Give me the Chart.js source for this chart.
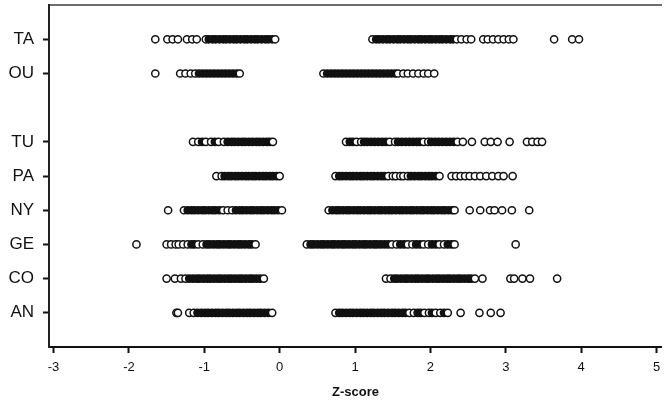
<!DOCTYPE html>
<html>
<head>
<meta charset="utf-8">
<script src="https://cdn.jsdelivr.net/npm/chart.js@4/dist/chart.umd.min.js"></script>
<style>
html,body{margin:0;padding:0;background:#fff;}
#wrap{width:667px;height:400px;position:relative;}
</style>
</head>
<body>
<div id="wrap"><canvas id="c" width="667" height="400"></canvas></div>
<script>
// Y axis labels (top to bottom, '' = empty slot)
const yLabels = ['', 'TA', 'OU', '', 'TU', 'PA', 'NY', 'GE', 'CO', 'AN', ''];
const xTicks = [-3, -2, -1, 0, 1, 2, 3, 4, 5];
const xTitle = 'Z-score';

// Z-scores per group
const TA = [-1.65, -1.49, -1.42, -1.35, -1.23, -1.16, -1.10,
  -0.98, -0.94, -0.89, -0.85, -0.80, -0.75, -0.71, -0.66, -0.61, -0.57, -0.52, -0.47, -0.43, -0.38, -0.33, -0.29, -0.24, -0.19, -0.15, -0.10, -0.06,
  1.23, 1.28, 1.32, 1.37, 1.42, 1.46, 1.51, 1.56, 1.60, 1.65, 1.70, 1.74, 1.79, 1.84, 1.88, 1.93, 1.98, 2.02, 2.07, 2.12, 2.16, 2.21, 2.26, 2.30, 2.35, 2.41,
  2.48, 2.54, 2.70, 2.76, 2.83, 2.90, 2.97, 3.04, 3.10, 3.64, 3.88, 3.97];
const OU = [-1.65, -1.32, -1.25, -1.18, -1.12, -1.07, -1.02, -0.97, -0.92, -0.87, -0.82, -0.77, -0.72, -0.67, -0.62, -0.57, -0.53,
  0.58, 0.63, 0.68, 0.73, 0.78, 0.83, 0.88, 0.93, 0.98, 1.03, 1.08, 1.13, 1.18, 1.23, 1.28, 1.33, 1.38, 1.43, 1.48, 1.53, 1.57,
  1.64, 1.70, 1.77, 1.84, 1.91, 1.97, 2.05];
const TU = [-1.15, -1.08, -1.03, -0.98, -0.91, -0.86, -0.81, -0.74, -0.69, -0.64, -0.60, -0.55, -0.50, -0.46, -0.41, -0.36, -0.31, -0.27, -0.22, -0.17, -0.13, -0.09,
  0.88, 0.93, 0.97, 1.02, 1.08, 1.12, 1.16, 1.21, 1.26, 1.31, 1.36, 1.41, 1.46, 1.53, 1.57, 1.62, 1.67, 1.72, 1.77, 1.82, 1.86, 1.91, 1.97, 2.01, 2.06, 2.11, 2.16, 2.21, 2.26, 2.31, 2.36,
  2.43, 2.55, 2.72, 2.80, 2.89, 3.05, 3.28, 3.35, 3.42, 3.48];
const PA = [-0.84, -0.77, -0.73, -0.68, -0.64, -0.59, -0.55, -0.50, -0.45, -0.41, -0.36, -0.32, -0.27, -0.22, -0.18, -0.13, -0.09, -0.04, 0.00,
  0.74, 0.79, 0.83, 0.88, 0.93, 0.97, 1.02, 1.07, 1.11, 1.16, 1.21, 1.25, 1.30, 1.35, 1.39, 1.44, 1.50, 1.54, 1.60, 1.64, 1.70, 1.74, 1.79, 1.84, 1.88, 1.93, 1.98, 2.02, 2.07, 2.12,
  2.28, 2.34, 2.40, 2.46, 2.52, 2.59, 2.66, 2.74, 2.82, 2.90, 2.97, 3.09];
const NY = [-1.48, -1.27, -1.22, -1.17, -1.13, -1.08, -1.03, -0.99, -0.94, -0.89, -0.85, -0.80, -0.75, -0.69, -0.63, -0.58, -0.53, -0.49, -0.44, -0.39, -0.35, -0.30, -0.25, -0.21, -0.16, -0.11, -0.07, -0.02, 0.03,
  0.65, 0.70, 0.75, 0.79, 0.84, 0.89, 0.93, 0.98, 1.03, 1.07, 1.12, 1.17, 1.21, 1.26, 1.31, 1.35, 1.40, 1.45, 1.49, 1.54, 1.59, 1.63, 1.68, 1.73, 1.77, 1.82, 1.87, 1.91, 1.96, 2.01, 2.05, 2.10, 2.15, 2.19, 2.24, 2.29, 2.32,
  2.52, 2.66, 2.79, 2.85, 2.95, 3.08, 3.31];
const GE = [-1.90, -1.50, -1.44, -1.38, -1.34, -1.28, -1.22, -1.17, -1.13, -1.08, -1.02, -0.97, -0.93, -0.88, -0.83, -0.79, -0.74, -0.69, -0.65, -0.60, -0.55, -0.51, -0.46, -0.41, -0.37, -0.32,
  0.36, 0.41, 0.45, 0.50, 0.55, 0.59, 0.64, 0.69, 0.73, 0.78, 0.83, 0.87, 0.92, 0.97, 1.01, 1.06, 1.11, 1.15, 1.20, 1.25, 1.29, 1.34, 1.39, 1.44, 1.49, 1.55, 1.60, 1.65, 1.70, 1.76, 1.81, 1.86, 1.91, 1.97, 2.02, 2.07, 2.12, 2.18, 2.23, 2.28, 2.32,
  3.13];
const CO = [-1.50, -1.39, -1.31, -1.25, -1.20, -1.15, -1.10, -1.06, -1.01, -0.96, -0.92, -0.87, -0.82, -0.78, -0.73, -0.68, -0.64, -0.59, -0.54, -0.50, -0.45, -0.40, -0.36, -0.31, -0.26, -0.21,
  1.41, 1.47, 1.52, 1.56, 1.61, 1.66, 1.70, 1.75, 1.80, 1.84, 1.89, 1.94, 1.98, 2.03, 2.08, 2.12, 2.17, 2.22, 2.26, 2.31, 2.36, 2.40, 2.45, 2.50, 2.54, 2.59,
  2.69, 3.06, 3.11, 3.22, 3.32, 3.68];
const AN = [-1.37, -1.35, -1.20, -1.14, -1.09, -1.04, -0.99, -0.95, -0.90, -0.85, -0.81, -0.76, -0.71, -0.67, -0.62, -0.57, -0.53, -0.48, -0.43, -0.39, -0.34, -0.29, -0.25, -0.20, -0.15, -0.10,
  0.74, 0.79, 0.83, 0.88, 0.93, 0.97, 1.02, 1.07, 1.11, 1.16, 1.21, 1.25, 1.30, 1.35, 1.39, 1.44, 1.49, 1.53, 1.58, 1.63, 1.67, 1.72, 1.78, 1.83, 1.87, 1.92, 1.98, 2.02, 2.07, 2.13, 2.18, 2.23,
  2.40, 2.65, 2.80, 2.93];

const groups = {TA, OU, TU, PA, NY, GE, CO, AN};

// Points that sit inside a dense run are drawn filled (overlapping outlines merge to solid black)
function fillFor(ctx) {
  const d = ctx.dataset.data, i = ctx.dataIndex;
  if (!d || i == null || !d[i]) return '#ffffff';
  const gl = i > 0 ? d[i].x - d[i - 1].x : 1;
  const gr = i < d.length - 1 ? d[i + 1].x - d[i].x : 1;
  return (gl <= 0.0551 && gr <= 0.0551) ? '#111111' : '#ffffff';
}

const datasets = Object.keys(groups).map(name => ({
  label: name,
  data: groups[name].map(v => ({x: v, y: name})),
  borderColor: '#111111',
  backgroundColor: fillFor,
  pointRadius: 3.6,
  pointBorderWidth: 1.5,
  pointHoverRadius: 3.6,
  showLine: false
}));

const FONT = "'Liberation Sans', Arial, sans-serif";

new Chart(document.getElementById('c'), {
  type: 'scatter',
  data: {datasets},
  options: {
    responsive: false,
    devicePixelRatio: 1,
    animation: false,
    layout: {padding: {left: 0, right: 1, top: 5, bottom: 0}},
    plugins: {legend: {display: false}, tooltip: {enabled: false}},
    scales: {
      x: {
        type: 'linear',
        position: 'bottom',
        min: -3.06,
        max: 5.07,
        afterBuildTicks: s => { s.ticks = xTicks.map(v => ({value: v})); },
        afterFit: s => { s.height = 53; s.paddingLeft = 0; s.paddingRight = 0; },
        ticks: {font: {family: FONT, size: 13}, color: '#111', padding: 7, maxRotation: 0,
          callback: v => String(v)},
        grid: {drawOnChartArea: false, drawTicks: true, tickLength: 6, tickWidth: 2, tickColor: '#111'},
        border: {display: true, color: '#111', width: 2},
        title: {display: true, text: xTitle, font: {family: FONT, size: 13, weight: 'bold'}, color: '#111', padding: {top: 0, bottom: 0}}
      },
      x2: {
        type: 'linear',
        position: 'top',
        min: -3.06,
        max: 5.07,
        ticks: {display: false},
        grid: {display: false, drawTicks: false},
        border: {display: true, color: '#6e6e6e', width: 2},
        afterFit: s => { s.height = 0; s.paddingLeft = 0; s.paddingRight = 0; }
      },
      y: {
        type: 'category',
        labels: yLabels,
        offset: false,
        afterFit: s => { s.width = 49; s.paddingTop = 0; s.paddingBottom = 0; },
        ticks: {font: {family: FONT, size: 17}, color: '#111', padding: 9, autoSkip: false},
        grid: {drawOnChartArea: false, drawTicks: true, tickLength: 6, tickWidth: 2,
          tickColor: ctx => (yLabels[ctx.index] ? '#111' : 'rgba(0,0,0,0)')},
        border: {display: true, color: '#222', width: 2}
      }
    }
  }
});
</script>
</body>
</html>
